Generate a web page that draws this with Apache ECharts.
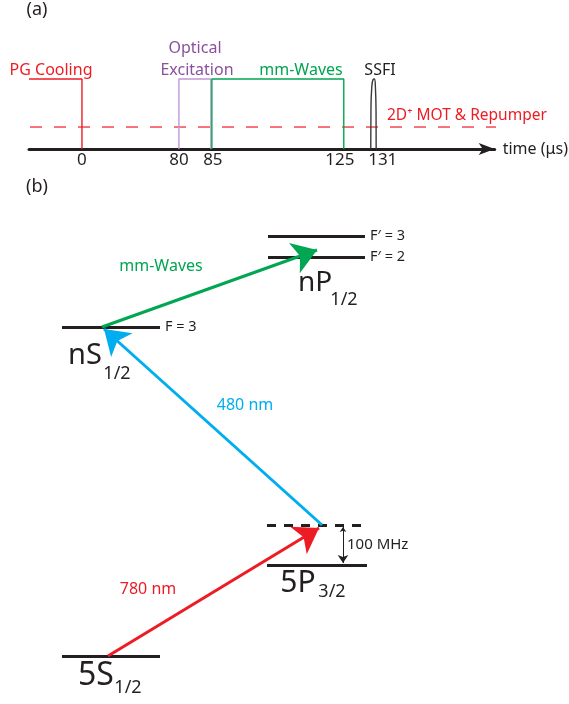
<!DOCTYPE html>
<html><head><meta charset="utf-8">
<script src="https://cdn.jsdelivr.net/npm/echarts@6/dist/echarts.min.js"></script>
<style>html,body{margin:0;padding:0;background:#fff}#c{width:569px;height:704px}</style>
</head><body><div id="c"></div>
<script>
// ---------------- data ----------------
// (a) timing sequence (times in microseconds)
const tickTimes = [0, 80, 85, 125, 131];
const pulseNames = ['PG Cooling', 'Optical Excitation', 'mm-Waves', 'SSFI'];
const pulseStart = [null, 80, 85, 131];   // null = from start of axis
const pulseEnd = [0, 85, 125, 131];
const backgroundName = '2D⁺ MOT & Repumper';
const axisName = 'time (μs)';

// (b) level scheme
const levelNames = ['F′ = 3', 'F′ = 2', 'F = 3', 'virtual', '5P3/2', '5S1/2'];
const levelY = [236, 257, 327, 525, 565, 656];
const levelX0 = [268, 268, 62, 267, 267, 62];
const levelX1 = [365, 365, 160, 367, 367, 160];
const transitionNames = ['780 nm', '480 nm', 'mm-Waves'];
const transitionFrom = [[108, 656], [322, 525], [102, 327]];
const transitionTo = [[319, 528], [104, 329], [317, 250]];
const detuningLabel = '100 MHz';

// ---------------- layout / style ----------------
const FONT = 'Noto Sans';
const BLACK = '#231f20', RED = '#ed1c24', GREEN = '#00a651', BLUE = '#00aeef';
const PURPLE_T = '#8b4f9f', PURPLE_L = '#c497d2';
const tickX = [82, 179, 211, 344, 374];      // schematic (broken) time axis anchors
const labelX = [82, 179, 213, 340, 383];
const AX0 = 29, AX1 = 495;
const ARROW = [16, 24];
function tx(t) {
  if (t === null) return AX0;
  for (let i = 0; i < tickTimes.length - 1; i++) {
    if (t <= tickTimes[i + 1]) {
      const f = (t - tickTimes[i]) / (tickTimes[i + 1] - tickTimes[i]);
      return tickX[i] + f * (tickX[i + 1] - tickX[i]);
    }
  }
  return tickX[tickX.length - 1];
}
const pulseColors = [RED, PURPLE_L, GREEN, '#3a3a3a'];

const series = [];
for (let i = 0; i < 3; i++) {
  const a = tx(pulseStart[i]) + (i === 2 ? 1 : 0), b = tx(pulseEnd[i]);
  const d = pulseStart[i] === null ? [[a, 1], [b, 1], [b, 0]] : [[a, 0], [a, 1], [b, 1], [b, 0]];
  series.push({type: 'line', xAxisIndex: 0, yAxisIndex: 0, data: d, symbol: 'none', clip: false,
    lineStyle: {color: pulseColors[i], width: 1.4, opacity: 1}, z: 3});
}
const c = tx(pulseStart[3]);
series.push({type: 'line', xAxisIndex: 0, yAxisIndex: 0, smooth: 0.5, symbol: 'none', clip: false,
  data: [[c - 3, 0], [c - 2.8, 0.55], [c - 2, 0.88], [c - 0.6, 0.995], [c + 0.6, 1], [c + 1.6, 0.9], [c + 2.3, 0.5], [c + 2.4, 0]],
  lineStyle: {color: pulseColors[3], width: 1.4, opacity: 1}, z: 3});
series.push({type: 'line', xAxisIndex: 0, yAxisIndex: 0, symbol: 'none', clip: false,
  data: [[AX0 + 1, 0.314], [504, 0.314]],
  lineStyle: {color: RED, width: 1.2, opacity: 1, type: [12, 12]}, z: 2});

series.push({type: 'lines', coordinateSystem: 'cartesian2d', xAxisIndex: 1, yAxisIndex: 1, symbol: 'none',
  data: levelNames.map((n, i) => ({coords: [[levelX0[i], levelY[i]], [levelX1[i], levelY[i]]],
    lineStyle: n === 'virtual' ? {color: BLACK, width: 3, opacity: 1, type: [9, 8]} : {color: BLACK, width: 3, opacity: 1}})),
  z: 2});
const trColors = [RED, BLUE, GREEN];
series.push({type: 'lines', coordinateSystem: 'cartesian2d', xAxisIndex: 1, yAxisIndex: 1,
  symbol: ['none', 'arrow'], symbolSize: ARROW,
  data: transitionNames.map((n, i) => ({coords: [transitionFrom[i], transitionTo[i]],
    lineStyle: {color: trColors[i], width: 3, opacity: 1}})), z: 4});
series.push({type: 'lines', coordinateSystem: 'cartesian2d', xAxisIndex: 1, yAxisIndex: 1,
  symbol: ['arrow', 'arrow'], symbolSize: [5, 8],
  data: [{coords: [[343, levelY[3] + 2], [343, levelY[4] - 2]]}],
  lineStyle: {color: BLACK, width: 1, opacity: 1}, z: 4});

function T(text, x, y, color, size, align) {
  return {value: [x, y], label: {formatter: text, color: color, fontSize: size, fontFamily: FONT,
    align: align || 'center', verticalAlign: 'middle', opacity: 1}};
}
const texts = [
  T('(a)', 37, 10, BLACK, 18), T('(b)', 37, 187, BLACK, 18),
  T(pulseNames[0], 51, 70, RED, 16),
  T('Optical', 195, 48, PURPLE_T, 16), T('Excitation', 197, 70, PURPLE_T, 16),
  T(pulseNames[2], 301, 70, GREEN, 16), T(pulseNames[3], 380, 70, BLACK, 16),
  T(backgroundName, 387, 116, RED, 15.5, 'left'),
  T(transitionNames[2], 161, 266, GREEN, 16),
  T(levelNames[2], 165, 327, BLACK, 14.5, 'left'),
  T(levelNames[0], 370, 236, BLACK, 14.5, 'left'),
  T(levelNames[1], 370, 257, BLACK, 14.5, 'left'),
  T('nP', 315, 283, BLACK, 28), T('1/2', 344, 300, BLACK, 18),
  T('nS', 85, 356, BLACK, 29), T('1/2', 117, 374, BLACK, 18),
  T(transitionNames[1], 245, 405, BLUE, 16),
  T(detuningLabel, 347, 545, BLACK, 15, 'left'),
  T('5P', 298, 583, BLACK, 30), T('3/2', 332, 592, BLACK, 18),
  T(transitionNames[0], 148, 589, RED, 16),
  T('5S', 96, 676, BLACK, 32), T('1/2', 128, 688, BLACK, 18)
];
series.push({type: 'scatter', xAxisIndex: 1, yAxisIndex: 1, symbolSize: 0, silent: true,
  itemStyle: {opacity: 1},
  label: {show: true, position: [0, 0], opacity: 1}, data: texts, z: 5});

const option = {
  animation: false,
  backgroundColor: '#fff',
  textStyle: {fontFamily: FONT},
  grid: [
    {left: AX0, top: 79, width: AX1 - AX0, height: 70},
    {left: 0, top: 0, width: 569, height: 704}
  ],
  xAxis: [
    {type: 'value', gridIndex: 0, min: AX0, max: AX1,
      axisLine: {show: true, onZero: false, symbol: ['none', 'arrow'], symbolSize: [9, 16],
        lineStyle: {color: BLACK, width: 3}},
      axisTick: {show: false}, splitLine: {show: false},
      axisLabel: {customValues: labelX, color: BLACK, fontSize: 17, margin: 3, fontFamily: FONT,
        formatter: v => String(tickTimes[labelX.indexOf(Math.round(v))])},
      name: axisName, nameLocation: 'end', nameGap: 8,
      nameTextStyle: {color: BLACK, fontSize: 16, fontFamily: FONT, verticalAlign: 'middle'}},
    {type: 'value', gridIndex: 1, min: 0, max: 569, show: false}
  ],
  yAxis: [
    {type: 'value', gridIndex: 0, min: 0, max: 1, show: false},
    {type: 'value', gridIndex: 1, min: 0, max: 704, inverse: true, show: false}
  ],
  series: series
};
echarts.init(document.getElementById('c'), null, {renderer: 'canvas'}).setOption(option);
</script></body></html>
